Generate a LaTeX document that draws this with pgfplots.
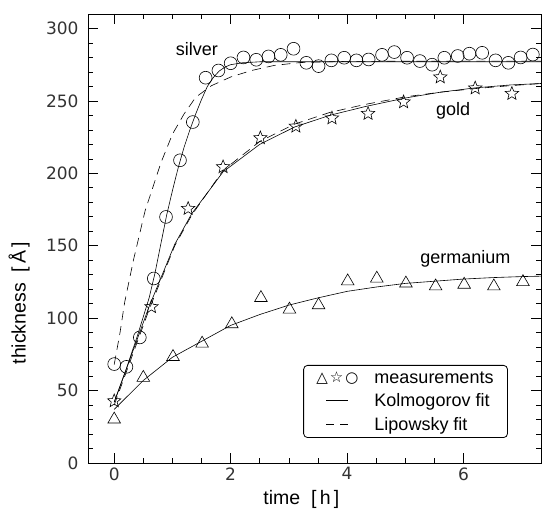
\documentclass[border=0pt]{standalone}
\usepackage{fontspec}
\setmainfont{Liberation Sans}
\newfontfamily\symfont{DejaVu Sans}
\newfontfamily\tickfont{DejaVu Sans}
\usepackage{pgfplots}
\pgfplotsset{compat=1.18}

\pgfdeclareplotmark{ostar}{%
  \pgfpathmoveto{\pgfpointpolar{90}{\pgfplotmarksize}}%
  \pgfpathlineto{\pgfpointpolar{126}{0.44\pgfplotmarksize}}%
  \pgfpathlineto{\pgfpointpolar{162}{\pgfplotmarksize}}%
  \pgfpathlineto{\pgfpointpolar{198}{0.44\pgfplotmarksize}}%
  \pgfpathlineto{\pgfpointpolar{234}{\pgfplotmarksize}}%
  \pgfpathlineto{\pgfpointpolar{270}{0.44\pgfplotmarksize}}%
  \pgfpathlineto{\pgfpointpolar{306}{\pgfplotmarksize}}%
  \pgfpathlineto{\pgfpointpolar{342}{0.44\pgfplotmarksize}}%
  \pgfpathlineto{\pgfpointpolar{18}{\pgfplotmarksize}}%
  \pgfpathlineto{\pgfpointpolar{54}{0.44\pgfplotmarksize}}%
  \pgfpathclose
  \pgfusepathqstroke
}

\pgfplotstableread{
x y
0 68.3
0.21 66.4
0.44 86.7
0.68 127.4
0.89 169.9
1.13 209
1.35 235.4
1.57 266
1.79 271
2.00 276
2.22 280
2.44 278.4
2.65 280.7
2.86 281.8
3.08 286
3.30 276.3
3.51 274
3.73 278
3.95 279.8
4.16 278
4.37 278.6
4.60 281.8
4.81 283.7
5.03 279.8
5.25 277.5
5.46 275
5.67 279.8
5.90 281
6.10 282.6
6.32 283.2
6.55 278
6.77 276.3
6.98 280
7.19 282
7.38 281
}\silver

\pgfplotstableread{
x y
0 42.8
0.64 107.8
1.27 175.6
1.87 204.4
2.51 224.4
3.12 232.4
3.74 238.1
4.36 241.2
4.97 249.2
5.60 266.4
6.20 258.8
6.83 255
}\gold

\pgfplotstableread{
x y
0 30.1
0.5 58.9
1.01 73.3
1.51 82.5
2.02 95.9
2.52 114
3.01 106
3.51 109
4.01 125.5
4.51 127.4
5.01 124
5.52 122
6.01 123.2
6.52 122
7.02 125
}\germanium

\pgfplotstableread{
x y
0 42
0.2 64
0.4 88
0.6 114
0.7 131
0.8 151
0.9 171
1.0 188
1.1 204
1.2 218
1.3 230
1.4 241
1.5 251
1.6 260
1.7 266
1.8 270.5
1.9 273.3
2.0 275
2.2 276.3
2.5 277
3 277
7.33 277
}\silverK

\pgfplotstableread{
x y
0 68
0.1 90
0.18 111
0.33 140
0.53 174
0.8 207
1.0 227
1.2 241
1.4 252.5
1.67 260.5
2.0 266.5
2.36 271
2.75 274.5
3.2 276.5
4 277.3
7.33 277.5
}\silverL

\pgfplotstableread{
x y
0 42
0.3 75
0.6 108
1.04 151
1.33 172
1.87 201
2.5 220
3.1 232
3.7 240
4.3 246
5 252
5.6 256
6.2 259
6.8 261
7.33 262
}\goldK

\pgfplotstableread{
x y
0 40
0.6 106
1.04 150
1.33 171
1.87 202
2.5 222
3.1 234
3.7 242
4.3 247.5
5 252.8
5.6 256
6.2 258.5
6.8 260.5
7.33 262
}\goldL

\pgfplotstableread{
x y
0 37
0.5 57
1 73
1.5 84
2 95
2.5 102.5
3 109
3.5 114
4 118.5
4.5 121.5
5 124
5.5 125.5
6 127
6.5 128
7 128.7
7.33 129
}\germaniumK

\begin{document}
\begin{tikzpicture}
\begin{axis}[
  at={(0,0)}, anchor=south west,
  width=453pt, height=449pt, scale only axis,
  xmin=-0.45, xmax=7.33, ymin=0, ymax=310,
  xtick={0,2,4,6}, minor x tick num=3,
  ytick={0,50,...,300}, minor y tick num=4,
  tick align=inside, tick pos=both,
  major tick length=10pt, minor tick length=5pt,
  every tick/.style={black, line width=0.6pt},
  axis line style={line width=0.8pt},
  /pgf/number format/assume math mode=true,
  tick label style={font=\tickfont\fontsize{17}{19}\selectfont, text=black!80},
  yticklabel style={xshift=-6pt},
  xticklabel style={yshift=-1pt},
  label style={font=\fontsize{19.5}{22}\selectfont, inner sep=0pt},
  xlabel={time\ \ [\,h\,]},
  ylabel={thickness\ \ [\,Å\,]},
  xlabel style={at={(axis description cs:0.471,-0.082)}, anchor=center},
  ylabel style={at={(axis description cs:-0.152,0.356)}, anchor=center},
  legend style={at={(0.927,0.0557)}, anchor=south east, draw=black,
    line width=0.8pt, rounded corners=4pt,
    font=\fontsize{18}{20}\selectfont, inner xsep=12pt, inner ysep=4pt,
    row sep=5pt, /tikz/every odd column/.append style={column sep=14pt}},
  legend cell align=left,
]
\addlegendimage{legend image code/.code={%
  \path (0pt,0pt) (42pt,0pt);
  \node[inner sep=0pt, anchor=west, font=\symfont\fontsize{15}{16}\selectfont] at (0pt,0pt) {△\hspace{2pt}☆\hspace{2pt}○};}}
\addlegendentry{measurements}
\addlegendimage{legend image code/.code={%
  \path (0pt,0pt) (42pt,0pt);
  \draw[line width=0.6pt, solid, sharp corners] (10pt,0pt) -- (32pt,0pt);}}
\addlegendentry{Kolmogorov fit}
\addlegendimage{legend image code/.code={%
  \path (0pt,0pt) (42pt,0pt);
  \draw[line width=0.6pt, sharp corners, dash pattern=on 8pt off 6pt] (10pt,0pt) -- (32pt,0pt);}}
\addlegendentry{Lipowsky fit}

\addplot[forget plot, black, line width=0.6pt] table {\silverK};
\addplot[forget plot, black, line width=0.6pt, dash pattern=on 9pt off 6pt] table {\silverL};
\addplot[forget plot, black, line width=0.6pt] table {\goldK};
\addplot[forget plot, black, line width=0.6pt, dash pattern=on 9pt off 6pt] table {\goldL};
\addplot[forget plot, black, line width=0.6pt] table {\germaniumK};

\addplot[forget plot, only marks, mark=o, mark size=6.4pt, mark options={line width=0.6pt}] table {\silver};
\addplot[forget plot, only marks, mark=ostar, mark size=7pt, mark options={line width=0.6pt}] table {\gold};
\addplot[forget plot, only marks, mark=triangle, mark size=7.3pt, mark options={line width=0.6pt}] table {\germanium};

\node[font=\fontsize{18}{20}\selectfont] at (axis cs:1.42,286) {silver};
\node[font=\fontsize{18}{20}\selectfont] at (axis cs:5.82,243.4) {gold};
\node[font=\fontsize{18}{20}\selectfont] at (axis cs:6.03,141.2) {germanium};
\end{axis}
\pgfresetboundingbox
\path[use as bounding box] (-88pt,-47pt) rectangle (455pt,463pt);
\end{tikzpicture}
\end{document}
